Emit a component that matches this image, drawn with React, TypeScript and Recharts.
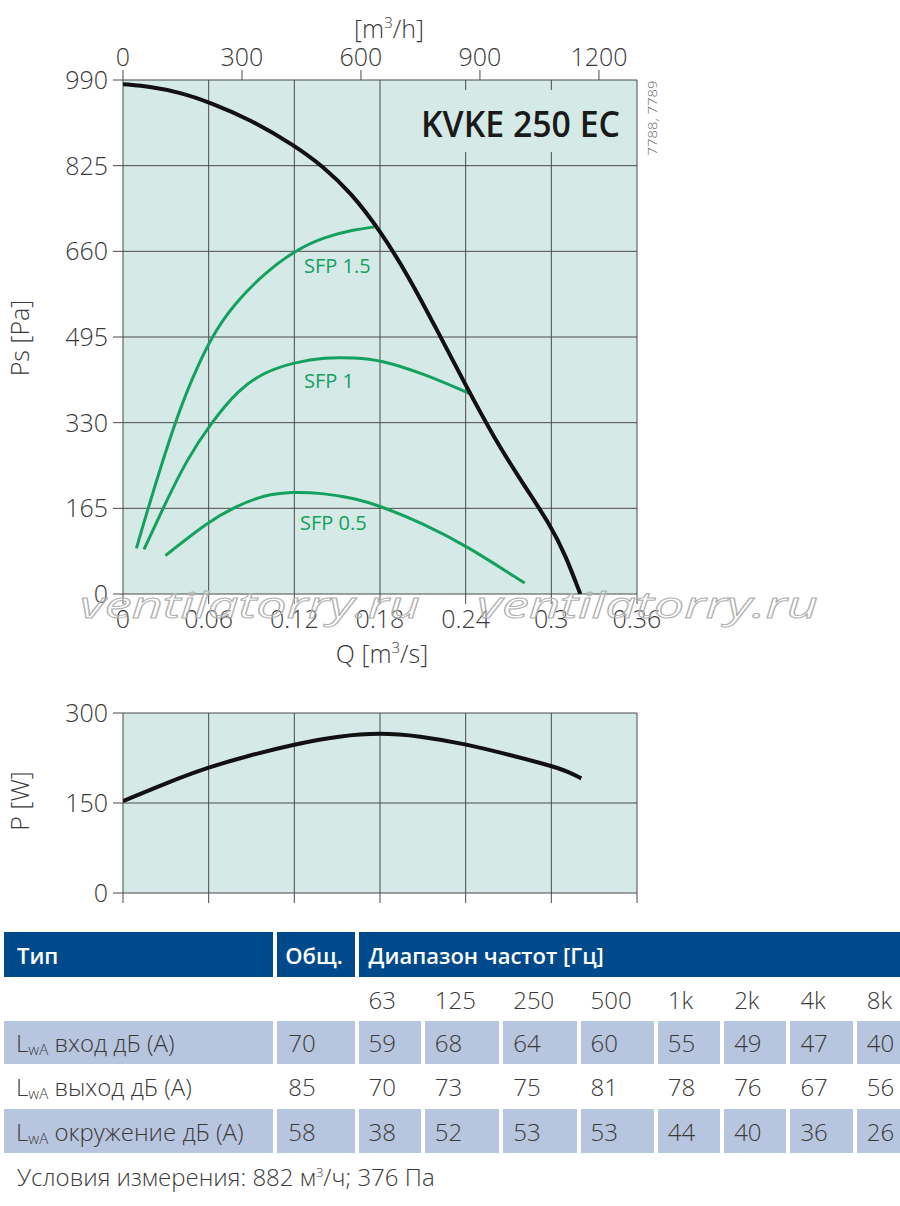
import React from "react";
import {
  LineChart,
  Line,
  XAxis,
  YAxis,
  CartesianGrid,
} from "recharts";

// Data

const qTicks = [0, 0.06, 0.12, 0.18, 0.24, 0.3, 0.36];
const flowTicksM3h = [0, 300, 600, 900, 1200];
const psTicks = [0, 165, 330, 495, 660, 825, 990];
const powerTicks = [0, 150, 300];

// [Q m3/s, Ps Pa]
const fanCurve: [number, number][] = [
  [0, 982], [0.02, 977], [0.04, 966], [0.06, 948], [0.09, 913],
  [0.12, 864], [0.14, 824], [0.16, 772], [0.18, 700], [0.2, 612],
  [0.22, 508], [0.24, 402], [0.26, 300], [0.28, 213], [0.3, 130],
  [0.31, 74], [0.3203, 0],
];
const sfp15: [number, number][] = [
  [0.0094, 88], [0.0175, 165], [0.0362, 330], [0.0479, 412], [0.0619, 496],
  [0.0782, 560], [0.0992, 618], [0.12, 661], [0.1412, 688], [0.1623, 702],
  [0.176, 707],
];
const sfp1: [number, number][] = [
  [0.0147, 86], [0.028, 165], [0.0444, 258], [0.0619, 330], [0.0805, 393],
  [0.0992, 428], [0.12, 446], [0.1412, 456], [0.1623, 455], [0.18, 451],
  [0.21, 425], [0.2428, 386],
];
const sfp05: [number, number][] = [
  [0.0297, 74], [0.0596, 139], [0.0782, 168], [0.0992, 191], [0.118, 197],
  [0.1412, 194], [0.1623, 184], [0.18, 170], [0.21, 136], [0.24, 94],
  [0.2813, 21],
];
// [Q m3/s, P W]
const powerCurve: [number, number][] = [
  [0, 153], [0.03, 183], [0.059, 209], [0.088, 229], [0.12, 248],
  [0.152, 262], [0.18, 267], [0.207, 262], [0.241, 248], [0.271, 230],
  [0.3, 212], [0.312, 202], [0.321, 191],
];

const headerCells = ["Тип", "Общ.", "Диапазон частот [Гц]"];
const bands = ["63", "125", "250", "500", "1k", "2k", "4k", "8k"];
const rowLabels = ["вход дБ (А)", "выход дБ (А)", "окружение дБ (А)"];
const totals = [70, 85, 58];
const inletLevels = [59, 68, 64, 60, 55, 49, 47, 40];
const outletLevels = [70, 73, 75, 81, 78, 76, 67, 56];
const surroundLevels = [38, 52, 53, 53, 44, 40, 36, 26];

// Styles

const FONT = "'Open Sans', 'Noto Sans', sans-serif";
const PLOT_BG = "#d5eae6";
const GRID = "#4a4a4a";
const TEXT = "#3a3a3a";
const GREEN = "#13a060";
const BLUE = "#004a8b";
const SHADE = "#b8c5df";
const M3H_PER_M3S = 3600;

const toPoints = (pairs: [number, number][]) => pairs.map(([q, v]) => ({ q, v }));
// same curve expressed in m3/h for the upper axis
const toFlowPoints = (pairs: [number, number][]) =>
  pairs.map(([q, v]) => ({ flow: q * M3H_PER_M3S, v }));

const tickStyle = { fill: TEXT, fontSize: 25, fontFamily: FONT, fontWeight: 300 };

function TopChart() {
  return (
    <LineChart
      width={900}
      height={680}
      margin={{ top: 50, right: 263, bottom: 56, left: 63 }}
    >
      <CartesianGrid fill={PLOT_BG} stroke={GRID} strokeWidth={1} fillOpacity={1} />
      <XAxis
        dataKey="q"
        type="number"
        domain={[0, 0.36]}
        ticks={qTicks}
        allowDataOverflow
        axisLine={false}
        tickSize={10}
        tickMargin={6}
        tickLine={{ stroke: GRID }}
        tick={tickStyle}
        tickFormatter={(v: number) => String(v)}
        height={30}
        interval={0}
      />
      <XAxis
        xAxisId="top"
        dataKey="flow"
        orientation="top"
        type="number"
        domain={[0, 0.36 * M3H_PER_M3S]}
        ticks={flowTicksM3h}
        allowDataOverflow
        axisLine={false}
        tickSize={10}
        tickMargin={4}
        tickLine={{ stroke: GRID }}
        tick={tickStyle}
        height={30}
        interval={0}
      />
      <YAxis
        type="number"
        domain={[0, 990]}
        ticks={psTicks}
        allowDataOverflow
        axisLine={false}
        tickSize={10}
        tickMargin={5}
        tickLine={{ stroke: GRID }}
        tick={tickStyle}
        width={60}
        interval={0}
      />
      <Line data={toPoints(sfp15)} dataKey="v" type="basis" stroke={GREEN} strokeWidth={3} dot={false} isAnimationActive={false} />
      <Line data={toPoints(sfp1)} dataKey="v" type="basis" stroke={GREEN} strokeWidth={3} dot={false} isAnimationActive={false} />
      <Line data={toPoints(sfp05)} dataKey="v" type="basis" stroke={GREEN} strokeWidth={3} dot={false} isAnimationActive={false} />
      <Line xAxisId="top" data={toFlowPoints(fanCurve)} dataKey="v" type="basis" stroke="#111" strokeWidth={4} dot={false} isAnimationActive={false} />
    </LineChart>
  );
}

function PowerChart() {
  return (
    <LineChart
      width={900}
      height={250}
      margin={{ top: 33, right: 263, bottom: 7, left: 63 }}
    >
      <CartesianGrid fill={PLOT_BG} stroke={GRID} strokeWidth={1} fillOpacity={1} />
      <XAxis
        dataKey="q"
        type="number"
        domain={[0, 0.36]}
        ticks={qTicks}
        allowDataOverflow
        axisLine={false}
        tickSize={10}
        tickLine={{ stroke: GRID }}
        tick={tickStyle}
        tickFormatter={() => ""}
        height={30}
        interval={0}
      />
      <YAxis
        type="number"
        domain={[0, 300]}
        ticks={powerTicks}
        allowDataOverflow
        axisLine={false}
        tickSize={10}
        tickMargin={5}
        tickLine={{ stroke: GRID }}
        tick={tickStyle}
        width={60}
        interval={0}
      />
      <Line data={toPoints(powerCurve)} dataKey="v" type="basis" stroke="#111" strokeWidth={4} dot={false} isAnimationActive={false} />
    </LineChart>
  );
}

// texts drawn over the charts
function Overlay() {
  const label = { fill: TEXT, fontSize: 25, fontFamily: FONT, fontWeight: 300 };
  const sfpText = { fill: GREEN, fontSize: 20, fontFamily: FONT };
  const mark = {
    fill: "rgba(255,255,255,0.25)",
    stroke: "#b0b0b0",
    strokeWidth: 1,
    fontSize: 37,
    fontFamily: FONT,
    fontStyle: "italic" as const,
  };
  return (
    <svg width={900} height={930} style={{ position: "absolute", left: 0, top: 0, pointerEvents: "none" }}>
      <rect x={413} y={90} width={221} height={62} fill={PLOT_BG} />
      <text x={421} y={137} fontSize={36} fontWeight={600} fontFamily={FONT} fill="#1a1a1a" textLength={199} lengthAdjust="spacingAndGlyphs">
        KVKE 250 EC
      </text>
      <text x={657} y={118} transform="rotate(-90 657 118)" textAnchor="middle" fontSize={13} fontWeight={300} fontFamily={FONT} fill="#666" textLength={75} lengthAdjust="spacingAndGlyphs">
        7788, 7789
      </text>
      <text x={389} y={38} textAnchor="middle" {...label}>
        [m<tspan dy={-10} fontSize={15}>3</tspan><tspan dy={10}>/h]</tspan>
      </text>
      <text x={382} y={663} textAnchor="middle" {...label}>
        Q [m<tspan dy={-10} fontSize={15}>3</tspan><tspan dy={10}>/s]</tspan>
      </text>
      <text x={29} y={338} transform="rotate(-90 29 338)" textAnchor="middle" {...label}>
        Ps [Pa]
      </text>
      <text x={29} y={801} transform="rotate(-90 29 801)" textAnchor="middle" {...label}>
        P [W]
      </text>
      <text x={304} y={273} {...sfpText}>SFP 1.5</text>
      <text x={304} y={388} {...sfpText}>SFP 1</text>
      <text x={300} y={530} {...sfpText}>SFP 0.5</text>
      <text x={80} y={618} textLength={340} lengthAdjust="spacingAndGlyphs" {...mark}>ventilatorry.ru</text>
      <text x={477} y={618} textLength={341} lengthAdjust="spacingAndGlyphs" {...mark}>ventilatorry.ru</text>
    </svg>
  );
}

const colWidths = [268, 77, 62, 74, 73, 73, 62, 62, 62, 43];
const rowHeights = [45, 36, 43, 37, 44];

function LevelsTable() {
  const levelRows = [inletLevels, outletLevels, surroundLevels];
  const cell = (bg: string, extra: React.CSSProperties = {}): React.CSSProperties => ({
    background: bg,
    padding: "0 0 0 11px",
    whiteSpace: "nowrap",
    verticalAlign: "middle",
    ...extra,
  });
  const head: React.CSSProperties = { color: "#fff", fontSize: 22, fontWeight: 600 };
  return (
    <table
      style={{
        position: "absolute",
        left: 0,
        top: 928,
        borderCollapse: "separate",
        borderSpacing: 4,
        tableLayout: "fixed",
        width: 904,
        fontFamily: FONT,
        fontSize: 24,
        color: TEXT,
        fontWeight: 300,
      }}
    >
      <colgroup>
        {colWidths.map((w, i) => (
          <col key={i} style={{ width: w }} />
        ))}
      </colgroup>
      <tbody>
        <tr style={{ height: rowHeights[0] }}>
          <td style={cell(BLUE, { ...head, paddingLeft: 13 })}>{headerCells[0]}</td>
          <td style={cell(BLUE, { ...head, paddingLeft: 8 })}>{headerCells[1]}</td>
          <td colSpan={8} style={cell(BLUE, { ...head, paddingLeft: 10 })}>{headerCells[2]}</td>
        </tr>
        <tr style={{ height: rowHeights[1] }}>
          <td style={cell("#fff")} />
          <td style={cell("#fff")} />
          {bands.map((b) => (
            <td key={b} style={cell("#fff", { paddingLeft: 10 })}>{b}</td>
          ))}
        </tr>
        {levelRows.map((levels, r) => {
          const bg = r === 1 ? "#fff" : SHADE;
          return (
            <tr key={r} style={{ height: rowHeights[r + 2] }}>
              <td style={cell(bg, { paddingLeft: 12 })}>
                L<span style={{ fontSize: 15, verticalAlign: -3 }}>wA</span> {rowLabels[r]}
              </td>
              <td style={cell(bg)}>{totals[r]}</td>
              {levels.map((v, i) => (
                <td key={i} style={cell(bg, { paddingLeft: 10 })}>{v}</td>
              ))}
            </tr>
          );
        })}
      </tbody>
    </table>
  );
}

export default function App() {
  return (
    <div
      style={{
        position: "absolute",
        left: 0,
        top: 0,
        width: 900,
        height: 1206,
        overflow: "hidden",
        background: "#fff",
      }}
    >
      <div style={{ position: "absolute", left: 0, top: 0 }}>
        <TopChart />
      </div>
      <div style={{ position: "absolute", left: 0, top: 680 }}>
        <PowerChart />
      </div>
      <Overlay />
      <LevelsTable />
      <div
        style={{
          position: "absolute",
          left: 17,
          top: 1160,
          fontFamily: FONT,
          fontSize: 24,
          fontWeight: 300,
          color: TEXT,
          whiteSpace: "nowrap",
        }}
      >
        Условия измерения: 882 м<sup style={{ fontSize: 13 }}>3</sup>/ч; 376 Па
      </div>
    </div>
  );
}
